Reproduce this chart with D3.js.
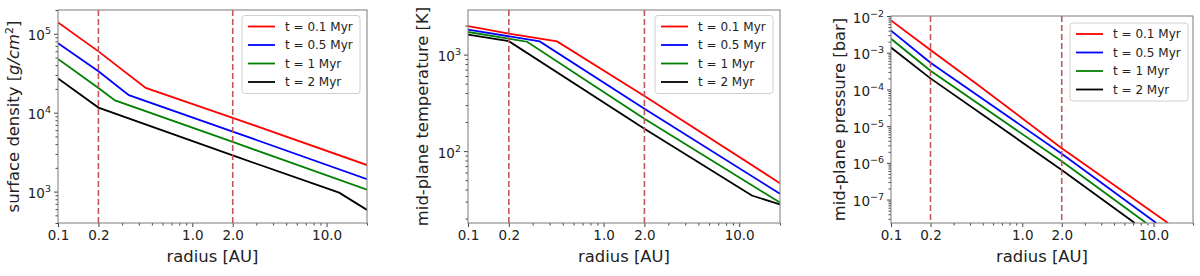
<!DOCTYPE html>
<html>
<head>
<meta charset="utf-8">
<script src="https://cdn.jsdelivr.net/npm/d3@7"></script>
<style>
body { margin: 0; background: #fff; }
text { font-family: "DejaVu Sans", sans-serif; fill: #222; }
</style>
</head>
<body>
<svg id="chart" width="1200" height="276"></svg>
<script>
// x axis: radius in AU
var radiusTicks = [0.1, 0.2, 1.0, 2.0, 10.0];
var radiusLabels = ["0.1", "0.2", "1.0", "2.0", "10.0"];
var markerRadii = [0.2, 2.0];

// disc ages
var timeLabels = ["t = 0.1 Myr", "t = 0.5 Myr", "t = 1 Myr", "t = 2 Myr"];
var timeColors = ["#ff0000", "#0000ff", "#008000", "#000000"];

// surface density [g/cm2]
var sigmaRadius = [[0.1, 0.2, 0.45, 2, 20], [0.1, 0.2, 0.337, 2, 20], [0.1, 0.2, 0.266, 2, 20], [0.1, 0.2, 2, 12.4, 20]];
var sigmaValues = [[1.39e5, 5.98e4, 2.06e4, 8.6e3, 2.17e3], [7.6e4, 3.34e4, 1.67e4, 5.76e3, 1.44e3], [4.8e4, 2.06e4, 1.43e4, 4.26e3, 1.06e3], [2.72e4, 1.16e4, 2.87e3, 970, 586]];
var sigmaDomain = [400, 2e5];
var sigmaTicks = [1e3, 1e4, 1e5];

// mid-plane temperature [K]
var tempRadius = [[0.1, 0.2, 0.454, 2, 20], [0.1, 0.338, 2, 20], [0.1, 0.273, 2, 20], [0.1, 0.2, 2, 12.4, 20]];
var tempValues = [[1970, 1650, 1370, 372, 46.5], [1820, 1370, 275, 36.1], [1717, 1360, 216, 29.3], [1613, 1380, 171, 34.7, 28]];
var tempDomain = [18, 2900];
var tempTicks = [1e2, 1e3];

// mid-plane pressure [bar]
var presRadius = [[0.1, 0.2, 0.45, 2, 12.9], [0.1, 0.2, 2, 10.5], [0.1, 0.2, 2, 8.8], [0.1, 0.2, 2, 7.2]];
var presValues = [[7.6e-3, 1.19e-3, 1.4e-4, 2.5e-6, 2.3e-8], [4.0e-3, 5.36e-4, 1.77e-6, 2.3e-8], [2.39e-3, 3.24e-4, 1.1e-6, 2.3e-8], [1.38e-3, 2.0e-4, 6.4e-7, 2.3e-8]];
var presDomain = [2.3e-8, 1e-2];
var presTicks = [1e-7, 1e-6, 1e-5, 1e-4, 1e-3, 1e-2];

var svg = d3.select("#chart");

function minorTicks(domain, skip) {
    var out = [];
    var lo = Math.floor(Math.log10(domain[0])), hi = Math.ceil(Math.log10(domain[1]));
    for (var e = lo; e <= hi; e++) {
        for (var k = 2; k <= 9; k++) {
            var v = k * Math.pow(10, e);
            if (v >= domain[0] * 0.999 && v <= domain[1] * 1.001 && skip.indexOf(+v.toPrecision(3)) < 0) out.push(v);
        }
    }
    return out;
}

function drawPanel(box, radii, values, yDomain, yTicks, yLabel, id) {
    var g = svg.append("g");
    var x = d3.scaleLog().domain([0.1, 20]).range([box.left, box.right]);
    var y = d3.scaleLog().domain(yDomain).range([box.bottom, box.top]);

    g.append("clipPath").attr("id", "clip" + id)
        .append("rect")
        .attr("x", box.left).attr("y", box.top)
        .attr("width", box.right - box.left).attr("height", box.bottom - box.top);

    //x axis, major then minor ticks
    var xAxis = g.append("g").attr("transform", "translate(0," + box.bottom + ")")
        .call(d3.axisBottom(x).tickValues(radiusTicks).tickSize(4).tickPadding(3)
            .tickFormat(function(d, i) { return radiusLabels[i]; }));
    xAxis.selectAll("text").attr("font-size", 13.5).attr("font-family", "DejaVu Sans");
    g.append("g").attr("transform", "translate(0," + box.bottom + ")")
        .call(d3.axisBottom(x).tickValues(minorTicks([0.1, 20], [0.2, 2])).tickSize(2.5).tickFormat(""));

    //y axis
    var yAxis = g.append("g").attr("transform", "translate(" + box.left + ",0)")
        .call(d3.axisLeft(y).tickValues(yTicks).tickSize(4).tickPadding(3).tickFormat(""));
    yAxis.selectAll(".tick text").each(function(d) {
        var t = d3.select(this).attr("font-size", 13.5).attr("font-family", "DejaVu Sans").attr("dy", "0.45em");
        var ex = Math.round(Math.log10(d));
        t.text("10");
        t.append("tspan").attr("dy", -6).attr("font-size", 9.5).text(ex < 0 ? "\u2212" + (-ex) : ex);
    });
    g.append("g").attr("transform", "translate(" + box.left + ",0)")
        .call(d3.axisLeft(y).tickValues(minorTicks(yDomain, [])).tickSize(2.5).tickFormat(""));
    g.selectAll(".domain").remove();
    g.selectAll(".tick line").attr("stroke", "#444");

    //curves
    var line = d3.line().x(function(d) { return x(d[0]); }).y(function(d) { return y(d[1]); });
    var curves = g.append("g").attr("clip-path", "url(#clip" + id + ")");
    radii.forEach(function(r, i) {
        curves.append("path")
            .attr("d", line(d3.zip(r, values[i])))
            .attr("fill", "none")
            .attr("stroke", timeColors[i])
            .attr("stroke-width", 1.8);
    });

    //dashed markers
    g.selectAll(".marker").data(markerRadii).enter()
        .append("line")
        .attr("class", "marker")
        .attr("x1", function(d) { return x(d); }).attr("x2", function(d) { return x(d); })
        .attr("y1", box.top).attr("y2", box.bottom)
        .attr("stroke", "#c4555a")
        .attr("stroke-width", 1.6)
        .attr("stroke-dasharray", "6,3");

    //frame
    g.append("rect")
        .attr("x", box.left).attr("y", box.top)
        .attr("width", box.right - box.left).attr("height", box.bottom - box.top)
        .attr("fill", "none").attr("stroke", "#7a7a7a").attr("stroke-width", 1);

    //legend
    var lx = box.right - 125, ly = box.top + 5.5;
    if (id == 3) { lx = box.right - 123; ly = box.top + 7; }
    var legend = g.append("g").attr("transform", "translate(" + lx + "," + ly + ")");
    legend.append("rect")
        .attr("width", 118).attr("height", 78).attr("rx", 3)
        .attr("fill", "#fff").attr("fill-opacity", 0.8)
        .attr("stroke", "#d0d0d0");
    legend.selectAll(".item").data(timeLabels).enter()
        .append("g").attr("class", "item")
        .attr("transform", function(d, i) { return "translate(0," + (11 + i * 18.5) + ")"; })
        .each(function(d, i) {
            var it = d3.select(this);
            it.append("line").attr("x1", 6).attr("x2", 33).attr("stroke", timeColors[i]).attr("stroke-width", 1.8);
            it.append("text").attr("x", 43).attr("dy", "0.36em").attr("font-size", 12).text(d);
        });

    //axis labels
    g.append("text")
        .attr("x", (box.left + box.right) / 2).attr("y", 262)
        .attr("text-anchor", "middle").attr("font-size", 16.4)
        .text("radius [AU]");
    var yl = g.append("text")
        .attr("transform", "translate(" + box.labelX + "," + ((box.top + box.bottom) / 2) + ") rotate(-90)")
        .attr("text-anchor", "middle").attr("font-size", 16.4);
    yLabel(yl);
}

drawPanel({left: 58, right: 367, top: 10, bottom: 223, labelX: 19}, sigmaRadius, sigmaValues, sigmaDomain, sigmaTicks, function(t) {
    t.append("tspan").text("surface density [");
    t.append("tspan").attr("font-style", "italic").text("g/cm");
    t.append("tspan").attr("dy", -6).attr("font-size", 11).text("2");
    t.append("tspan").attr("dy", 6).text("]");
}, 1);

drawPanel({left: 468, right: 780, top: 10, bottom: 223, labelX: 428}, tempRadius, tempValues, tempDomain, tempTicks, function(t) {
    t.text("mid-plane temperature [K]");
}, 2);

drawPanel({left: 891, right: 1193, top: 16, bottom: 223, labelX: 845}, presRadius, presValues, presDomain, presTicks, function(t) {
    t.text("mid-plane pressure [bar]");
}, 3);
</script>
</body>
</html>
